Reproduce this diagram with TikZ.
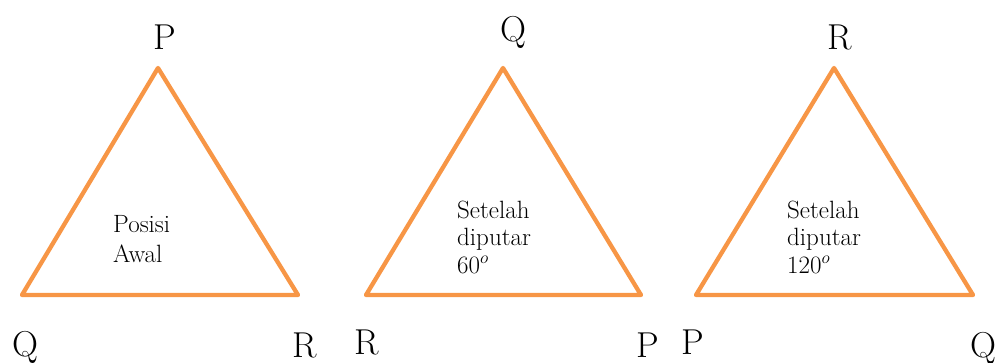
\documentclass[tikz,border=0pt]{standalone}
\usepackage{fontspec}
\definecolor{triorange}{HTML}{F79646}
\begin{document}
\begin{tikzpicture}[x=1pt,y=-1pt,
  tri/.style={draw=triorange,line width=4.3pt,line join=round},
  vlabel/.style={anchor=base,inner sep=0pt,font=\fontsize{36}{40}\selectfont},
  inlabel/.style={anchor=base west,inner sep=0pt,align=left,font=\fontsize{25}{27.5}\selectfont}]
\useasboundingbox (0,0) rectangle (995,363);
% triangle 1
\coordinate (a1) at (158,68);
\coordinate (b1) at (22,295);
\coordinate (c1) at (298,295);
\draw[tri] (a1) -- (b1) -- (c1) -- cycle;
\node[vlabel] (p1) at (165,50) {P};
\node[vlabel] (q1) at (25,356) {Q};
\node[vlabel] (r1) at (305,357) {R};
\node[inlabel,font=\fontsize{25}{30}\selectfont] (t1) at (113,262) {Posisi\\Awal};
% triangle 2
\coordinate (a2) at (503,68);
\coordinate (b2) at (366,295);
\coordinate (c2) at (641,295);
\draw[tri] (a2) -- (b2) -- (c2) -- cycle;
\node[vlabel] (q2) at (513,42) {Q};
\node[vlabel] (r2) at (367,354) {R};
\node[vlabel] (p2) at (648,357) {P};
\node[inlabel] (t2) at (457,273) {Setelah\\diputar\\60$^{o}$};
% triangle 3
\coordinate (a3) at (834,68);
\coordinate (b3) at (696,295);
\coordinate (c3) at (973,295);
\draw[tri] (a3) -- (b3) -- (c3) -- cycle;
\node[vlabel] (r3) at (840,50) {R};
\node[vlabel] (p3) at (693,354) {P};
\node[vlabel] (q3) at (983,357) {Q};
\node[inlabel] (t3) at (787,273) {Setelah\\diputar\\120$^{o}$};
\end{tikzpicture}
\end{document}
